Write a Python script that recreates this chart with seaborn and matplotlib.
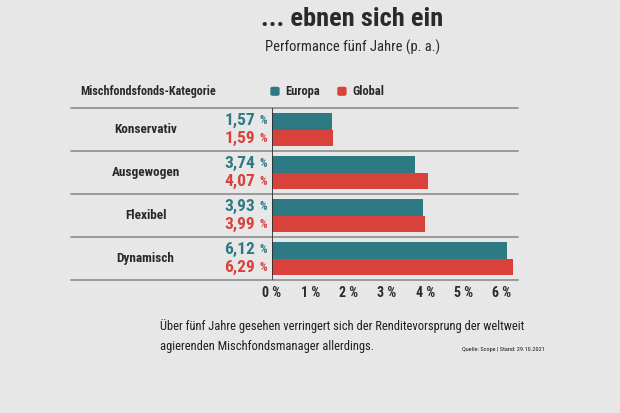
import matplotlib
matplotlib.use("Agg")
import matplotlib.pyplot as plt
from matplotlib import font_manager as fm
from matplotlib.patches import FancyBboxPatch
import seaborn as sns
import pandas as pd

categories = ["Konservativ", "Ausgewogen", "Flexibel", "Dynamisch"]
europa = [1.57, 3.74, 3.93, 6.12]
global_ = [1.59, 4.07, 3.99, 6.29]
series = ["Europa", "Global"]
ticks = [0, 1, 2, 3, 4, 5, 6]

bg = "#e7e7e7"
teal = "#2e7a84"
red = "#d9413b"
dark = "#2a2a2a"

# schmale Schrift suchen, sonst Liberation Sans
names = {f.name for f in fm.fontManager.ttflist}
narrow = {f.name for f in fm.fontManager.ttflist
          if str(f.stretch) in ("condensed", "semi-condensed", "extra-condensed", "ultra-condensed")}
family = "Liberation Sans"
for cand in ["Roboto Condensed", "Liberation Sans Narrow", "Open Sans Condensed"]:
    if cand in names:
        family = cand
        break
else:
    for cand in ["Noto Sans", "Open Sans", "DejaVu Sans"]:
        if cand in narrow:
            family = cand
            break

sns.set_theme(style="white")
plt.rcParams["font.family"] = [family, "DejaVu Sans"]
plt.rcParams["font.stretch"] = "condensed"

df = pd.DataFrame({
    "Kategorie": categories * 2,
    "Wert": europa + global_,
    "Serie": ["Europa"] * 4 + ["Global"] * 4,
})

fig = plt.figure(figsize=(6.2, 4.13), dpi=100, facecolor=bg)
ax = fig.add_axes([0.4387, 0.322, 0.3968, 0.4165])
ax.set_facecolor(bg)

sns.barplot(data=df, y="Kategorie", x="Wert", hue="Serie", order=categories,
            hue_order=series, palette=[teal, red], orient="h", width=0.79,
            saturation=1, legend=False, linewidth=0, ax=ax)

ax.set_xlim(0, 6.42)
ax.set_ylim(3.5, -0.5)
for s in ax.spines.values():
    s.set_visible(False)
ax.axvline(0, color=dark, lw=1.2, zorder=5)
for yb in [-0.5, 0.5, 1.5, 2.5, 3.5]:
    ax.axhline(yb, xmin=-0.816, xmax=1.0, color="#939393", lw=1.3, clip_on=False)

ax.set_xticks(ticks)
ax.set_xticklabels([f"{t} %" for t in ticks], fontsize=10, fontweight="bold", color=dark)
ax.tick_params(axis="x", length=0, pad=4)
ax.set_yticks([])
ax.set_xlabel("")
ax.set_ylabel("")

# Kategorien und Wertbeschriftungen links
for i, cat in enumerate(categories):
    ax.annotate(cat, xy=(0, i), xycoords="data", xytext=(-91, 0), textcoords="offset points",
                ha="center", va="center", fontsize=9.5, fontweight="bold", color=dark)
    for val, off, col in [(europa[i], -0.2, teal), (global_[i], 0.2, red)]:
        ax.annotate(f"{val:.2f}".replace(".", ","), xy=(0, i + off), xytext=(-12, 0),
                    textcoords="offset points", ha="right", va="center",
                    fontsize=12.5, fontweight="bold", color=col)
        ax.annotate("%", xy=(0, i + off), xytext=(-3.5, 0), textcoords="offset points",
                    ha="right", va="center", fontsize=8.5, fontweight="bold", color=col)

fig.text(0.568, 0.955, "... ebnen sich ein", ha="center", va="center",
         fontsize=19, fontweight="bold", color=dark)
fig.text(0.569, 0.885, "Performance fünf Jahre (p. a.)", ha="center", va="center",
         fontsize=10.5, color=dark)
fig.text(0.129, 0.779, "Mischfondsfonds-Kategorie", ha="left", va="center",
         fontsize=8.7, fontweight="bold", color=dark)

# Legende
for x0, name, col in [(0.436, "Europa", teal), (0.544, "Global", red)]:
    fig.patches.append(FancyBboxPatch((x0, 0.768), 0.015, 0.022,
                                      boxstyle="round,pad=0,rounding_size=0.004",
                                      transform=fig.transFigure,
                                      facecolor=col, edgecolor="none"))
    fig.text(x0 + 0.024, 0.779, name, ha="left", va="center", fontsize=9,
             fontweight="bold", color=dark)

fig.text(0.258, 0.211, "Über fünf Jahre gesehen verringert sich der Renditevorsprung der weltweit",
         ha="left", va="center", fontsize=9, color="#1e1e1e")
fig.text(0.258, 0.160, "agierenden Mischfondsmanager allerdings.",
         ha="left", va="center", fontsize=9, color="#1e1e1e")
fig.text(0.745, 0.153, "Quelle: Scope | Stand: 29.10.2021", ha="left", va="center",
         fontsize=4.5, color="#1e1e1e")

fig.savefig("out.png", dpi=100, facecolor=bg)
